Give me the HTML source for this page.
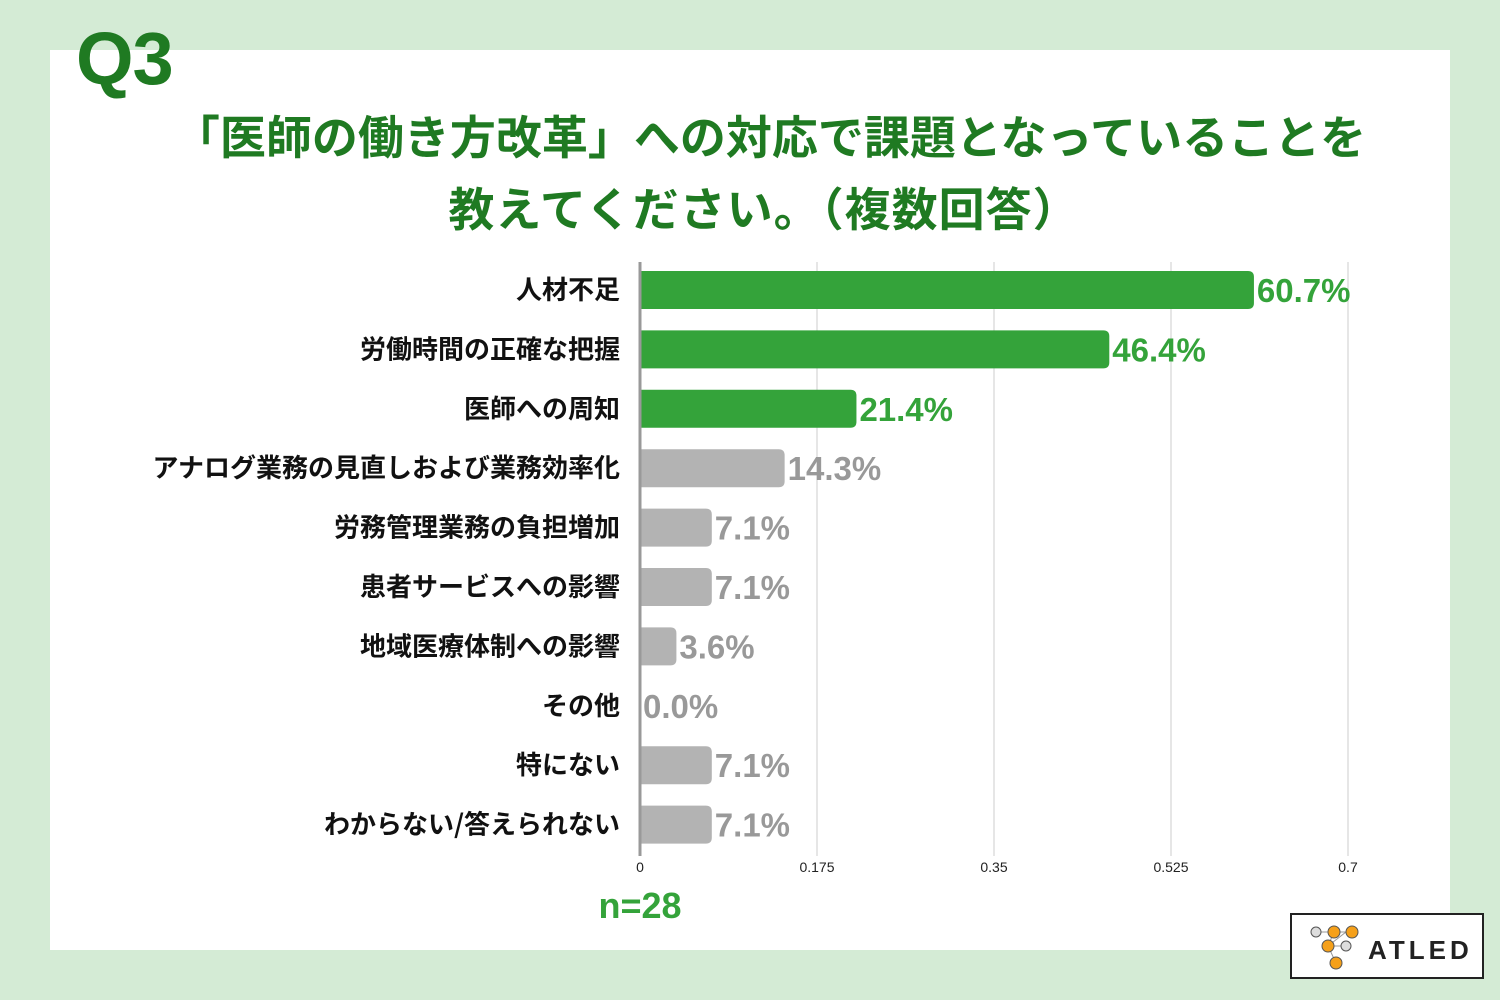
<!DOCTYPE html>
<html><head><meta charset="utf-8"><style>
body{margin:0;width:1500px;height:1000px;background:#d4ebd5;font-family:"Liberation Sans","Noto Sans CJK JP",sans-serif;overflow:hidden}
#panel{position:absolute;left:50px;top:50px;width:1400px;height:900px;background:#fff}
#q{position:absolute;left:76px;top:16px;font-size:74px;font-weight:bold;color:#1f7a22;letter-spacing:-1px}
.title{position:absolute;left:0;width:1540px;text-align:center;font-size:46px;font-weight:bold;color:#1f7a22;font-family:"Noto Sans CJK JP",sans-serif}
#logo{position:absolute;left:1290px;top:913px;width:194px;height:66px;border:2px solid #222;background:#fff;box-sizing:border-box}
</style></head><body>
<div id="panel"></div>
<div id="q">Q3</div>
<div class="title" style="top:102px">「医師の働き方改革」への対応で課題となっていることを</div>
<div class="title" style="top:174px;left:-6px;letter-spacing:1px">教えてください。（複数回答）</div>
<svg id="chart" width="1500" height="1000" style="position:absolute;left:0;top:0"></svg>
<div id="logo">
<svg width="190" height="62">
<g stroke="#999" stroke-width="1"><line x1="28" y1="17" x2="54" y2="17"/><line x1="42" y1="17" x2="36" y2="31"/><line x1="54" y1="17" x2="36" y2="31"/><line x1="36" y1="31" x2="54" y2="31"/><line x1="36" y1="31" x2="44" y2="48"/></g>
<circle cx="24" cy="17" r="5" fill="#ddd" stroke="#555"/><circle cx="42" cy="17" r="6" fill="#f5a01a" stroke="#555"/><circle cx="60" cy="17" r="6" fill="#f5a01a" stroke="#555"/>
<circle cx="36" cy="31" r="6" fill="#f5a01a" stroke="#555"/><circle cx="54" cy="31" r="5" fill="#ddd" stroke="#555"/><circle cx="44" cy="48" r="6" fill="#f5a01a" stroke="#555"/>
<text x="76" y="44" font-size="26" font-weight="bold" fill="#222" letter-spacing="4" font-family="Liberation Sans">ATLED</text>
</svg></div>
<script>
const categories=["人材不足","労働時間の正確な把握","医師への周知","アナログ業務の見直しおよび業務効率化","労務管理業務の負担増加","患者サービスへの影響","地域医療体制への影響","その他","特にない","わからない/答えられない"];
const values=[60.7,46.4,21.4,14.3,7.1,7.1,3.6,0.0,7.1,7.1];
const highlight=[true,true,true,false,false,false,false,false,false,false];
const ticks=[0,0.175,0.35,0.525,0.7];
const tickLabels=["0","0.175","0.35","0.525","0.7"];
const NS="http://www.w3.org/2000/svg";
const svg=document.getElementById('chart');
const x0=640,x1=1348,yTop=262,yBot=856,rowH=59.4,firstC=290,bh=38;
const xs=v=>x0+(v/0.7)*(x1-x0);
const ys=i=>firstC+i*rowH;
function mk(t,a){const e=document.createElementNS(NS,t);for(const k in a)e.setAttribute(k,a[k]);svg.appendChild(e);return e;}
ticks.forEach((t,i)=>{
 if(i>0){const l=mk('line',{x1:xs(t),x2:xs(t),y1:yTop,y2:yBot,stroke:'#ccc','stroke-width':1});
 
 }
 const tx=mk('text',{x:xs(t),y:872,'text-anchor':'middle','font-size':14,fill:'#222'});tx.textContent=tickLabels[i];
 
 
});
values.forEach((v,i)=>{
 const c=highlight[i]?'#34a33a':'#b3b3b3';
 const w=xs(v/100)-x0,y=ys(i)-bh/2,r=Math.min(6,w/2);
 if(w>0){const p=mk('path',{d:`M${x0},${y}H${x0+w-r}Q${x0+w},${y} ${x0+w},${y+r}V${y+bh-r}Q${x0+w},${y+bh} ${x0+w-r},${y+bh}H${x0}Z`,fill:c});
 
 }
 const vt=mk('text',{x:xs(v/100)+3,y:ys(i)+12,'font-size':33,'font-weight':'bold',fill:highlight[i]?'#34a33a':'#999'});vt.textContent=v.toFixed(1)+'%';
 
 
 const ct=mk('text',{x:620,y:ys(i)+9,'text-anchor':'end','font-size':26,'font-weight':'bold',fill:'#111','font-family':'Noto Sans CJK JP,sans-serif'});ct.textContent=categories[i];
 
 
});
const ax=mk('line',{x1:x0,x2:x0,y1:yTop,y2:yBot,stroke:'#999','stroke-width':3});


const n=mk('text',{x:640,y:918,'text-anchor':'middle','font-size':36,'font-weight':'bold',fill:'#34a33a'});n.textContent='n=28';


</script>
</body></html>
